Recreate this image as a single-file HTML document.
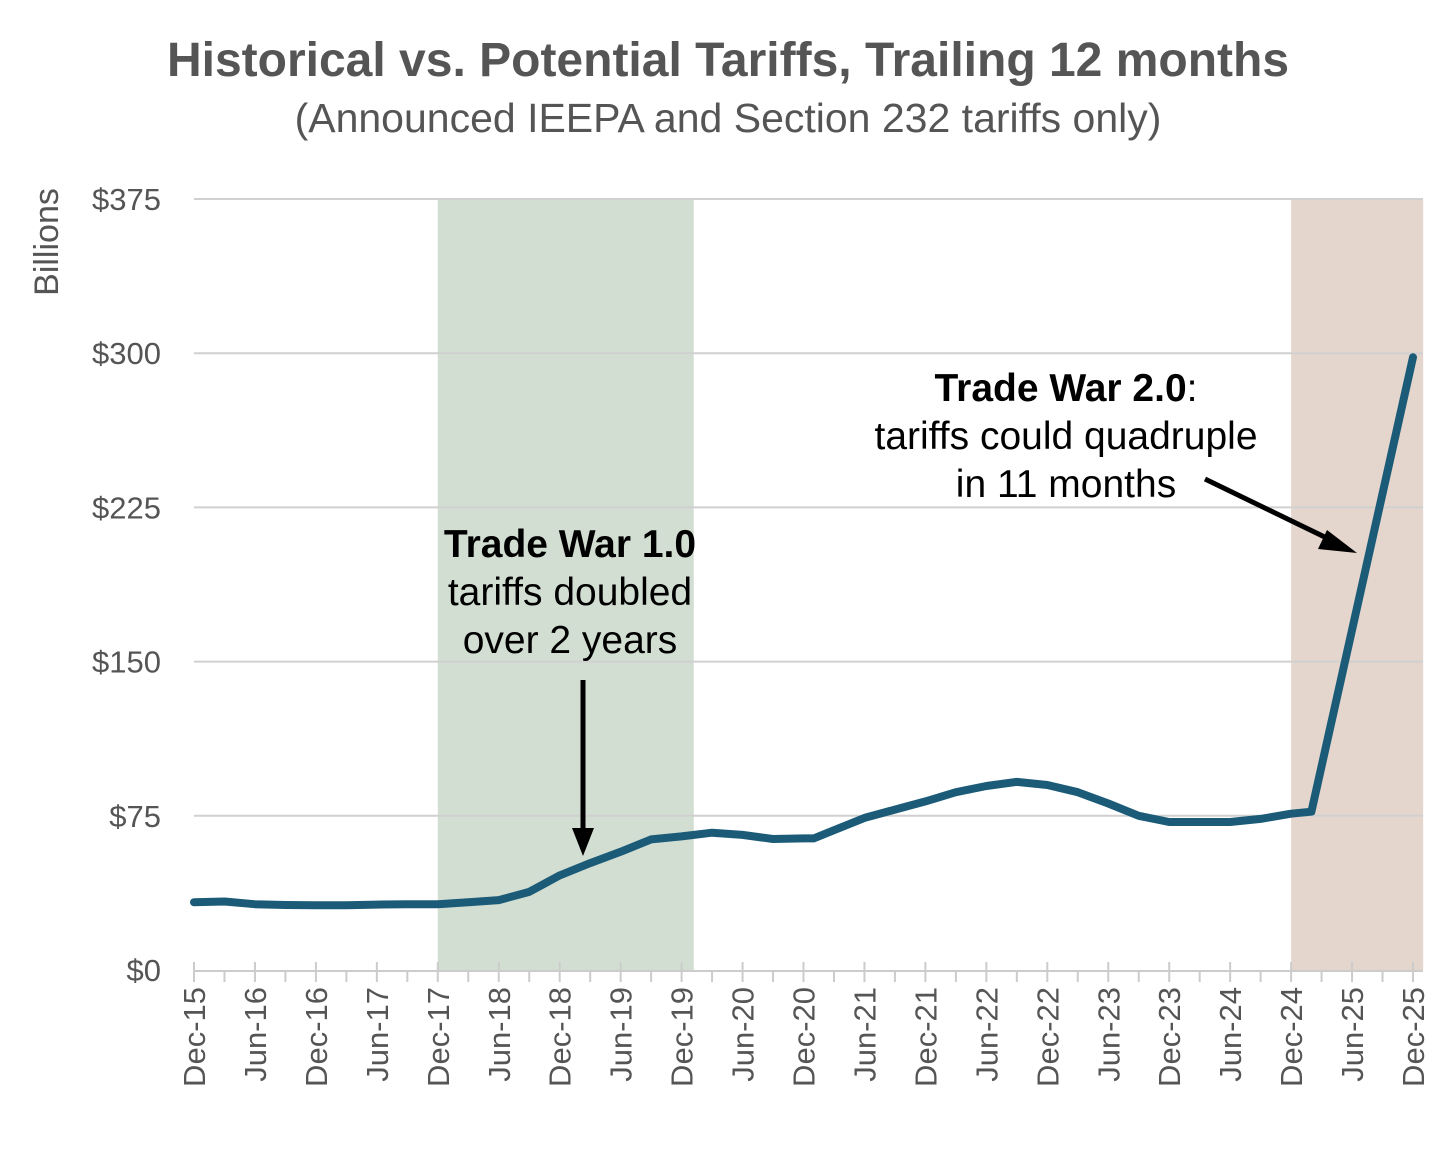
<!DOCTYPE html>
<html><head><meta charset="utf-8"><style>
body{margin:0;background:#fff;}
svg{display:block;font-family:"Liberation Sans",sans-serif;}
</style></head><body>
<svg width="1456" height="1163" viewBox="0 0 1456 1163">
<text x="728" y="76" text-anchor="middle" font-size="48" font-weight="bold" fill="#555">Historical vs. Potential Tariffs, Trailing 12 months</text>
<text x="728" y="132" text-anchor="middle" font-size="41" fill="#555">(Announced IEEPA and Section 232 tariffs only)</text>
<text transform="translate(58,242) rotate(-90)" text-anchor="middle" font-size="34" fill="#555">Billions</text>
<g id="bands"></g>
<g id="grid"></g>
<g id="xaxis"></g>
<g id="series"></g>
<g>
<text x="570" y="557" text-anchor="middle" font-size="39" font-weight="bold" fill="#000">Trade War 1.0</text>
<text x="570" y="605" text-anchor="middle" font-size="39" fill="#000">tariffs doubled</text>
<text x="570" y="653" text-anchor="middle" font-size="39" fill="#000">over 2 years</text>
<line x1="583" y1="680" x2="583" y2="830" stroke="#000" stroke-width="5"/>
<polygon points="572,828 594,828 583,856" fill="#000"/>
</g>
<g>
<text x="1066" y="401" text-anchor="middle" font-size="39" fill="#000"><tspan font-weight="bold">Trade War 2.0</tspan>:</text>
<text x="1066" y="449" text-anchor="middle" font-size="39" fill="#000">tariffs could quadruple</text>
<text x="1066" y="497" text-anchor="middle" font-size="39" fill="#000">in 11 months</text>
<line x1="1205" y1="479" x2="1335" y2="542" stroke="#000" stroke-width="5"/>
<polygon points="1327,530 1318,549 1357,553" fill="#000"/>
</g>
</svg>
<script>
const months=[0,3,6,9,12,15,18,21,24,27,30,33,36,39,42,45,48,51,54,57,60,61,63,66,69,72,75,78,81,84,87,90,93,96,99,102,105,108,110,120];
const values=[33,33.3,32,31.6,31.5,31.5,31.8,32,32,33,34,38,46,52,57.5,63.5,65,66.8,65.7,63.7,64,64,68,74,78,82,86.5,89.5,91.5,90,86.5,81,75,72,72,72,73.5,76,77,298];
const yTicks=[0,75,150,225,300,375];
const yTickLabels=["$0","$75","$150","$225","$300","$375"];
const xTickLabels=["Dec-15","Jun-16","Dec-16","Jun-17","Dec-17","Jun-18","Dec-18","Jun-19","Dec-19","Jun-20","Dec-20","Jun-21","Dec-21","Jun-22","Dec-22","Jun-23","Dec-23","Jun-24","Dec-24","Jun-25","Dec-25"];
const bandStarts=[24,108];
const bandEnds=[49.2,121];
const NS="http://www.w3.org/2000/svg";
const X=m=>194+m*(1413-194)/120;
const Y=v=>970-v*(970-199)/375;
function mk(t,a,p){const e=document.createElementNS(NS,t);for(const k in a)e.setAttribute(k,a[k]);p.appendChild(e);return e;}
const bands=document.getElementById('bands');
const bandColors=["#d3ded3","#e4d6cc"];
for(let i=0;i<bandStarts.length;i++){
 const r=mk('rect',{x:X(bandStarts[i]),y:Y(375),width:X(bandEnds[i])-X(bandStarts[i]),height:Y(0)-Y(375),fill:bandColors[i]},bands);
 
 
}
const grid=document.getElementById('grid');
yTicks.forEach((v,i)=>{
 if(v>0){const l=mk('line',{x1:194,x2:1423,y1:Y(v),y2:Y(v),stroke:"#d0d0d0","stroke-width":2},grid);
 
 }
 const t=mk('text',{x:161,y:Y(v)+11,"text-anchor":"end","font-size":31,fill:"#555"},grid);
 t.textContent=yTickLabels[i];
 
 
});
const xa=document.getElementById('xaxis');
const ax=mk('line',{x1:194,x2:1423,y1:971,y2:971,stroke:"#ccc","stroke-width":2},xa);


for(let m=0;m<=120;m+=3){
 const major=m%6==0;
 mk('line',{x1:X(m),x2:X(m),y1:major?962:971,y2:982,stroke:"#ccc","stroke-width":2},xa);
}
xTickLabels.forEach((s,i)=>{
 const x=X(i*6)+11;
 const t=mk('text',{transform:`translate(${x},987) rotate(-90)`,"text-anchor":"end","font-size":31,fill:"#555"},xa);
 t.textContent=s;
 
 
});
const ser=document.getElementById('series');
const d=months.map((m,i)=>(i?'L':'M')+X(m).toFixed(1)+','+Y(values[i]).toFixed(1)).join(' ');
const p=mk('path',{d:d,fill:"none",stroke:"#1b5b78","stroke-width":8,"stroke-linejoin":"round","stroke-linecap":"round"},ser);


</script>
</body></html>
